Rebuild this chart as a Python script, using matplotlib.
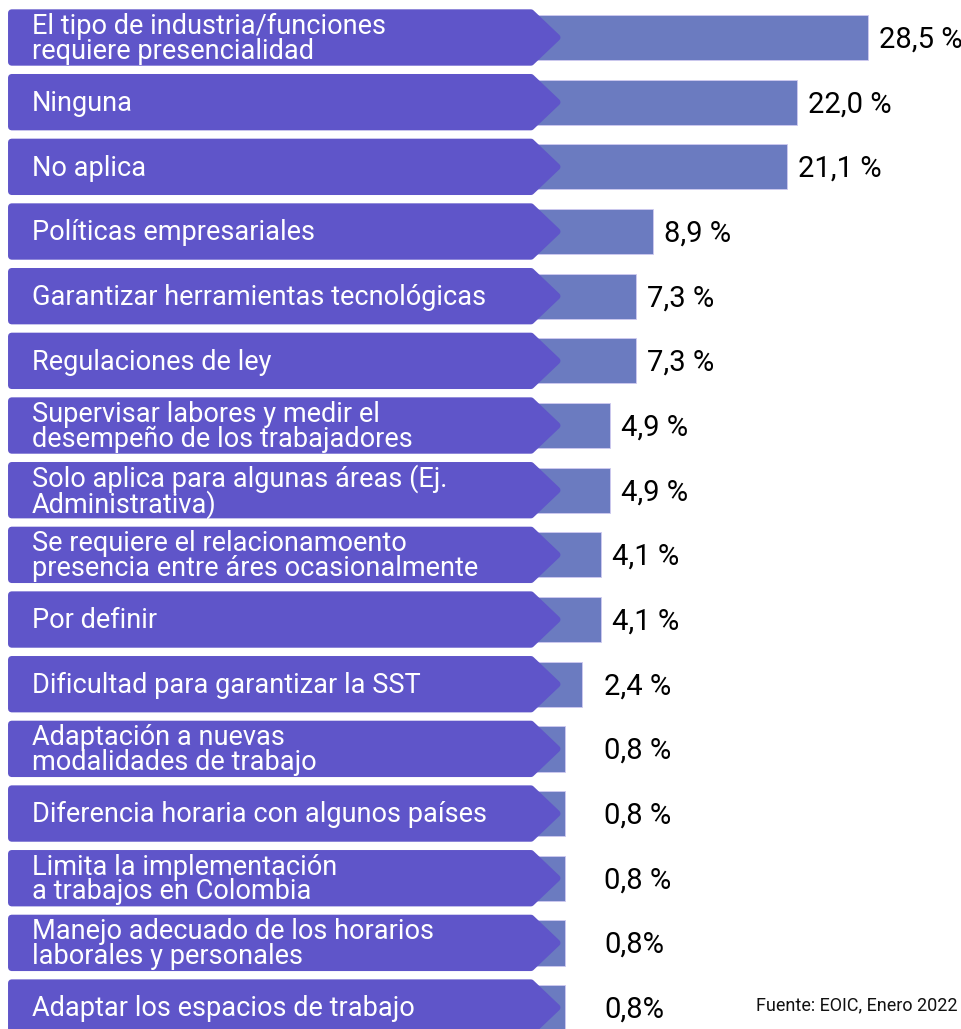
import numpy as np
import matplotlib
matplotlib.use("Agg")
import matplotlib.pyplot as plt
from matplotlib.patches import Polygon

# data
labels = [
    "El tipo de industria/funciones\nrequiere presencialidad",
    "Ninguna",
    "No aplica",
    "Políticas empresariales",
    "Garantizar herramientas tecnológicas",
    "Regulaciones de ley",
    "Supervisar labores y medir el\ndesempeño de los trabajadores",
    "Solo aplica para algunas áreas (Ej.\nAdministrativa)",
    "Se requiere el relacionamoento\npresencia entre áres ocasionalmente",
    "Por definir",
    "Dificultad para garantizar la SST",
    "Adaptación a nuevas\nmodalidades de trabajo",
    "Diferencia horaria con algunos países",
    "Limita la implementación\na trabajos en Colombia",
    "Manejo adecuado de los horarios\nlaborales y personales",
    "Adaptar los espacios de trabajo",
]
values = [28.5, 22.0, 21.1, 8.9, 7.3, 7.3, 4.9, 4.9, 4.1, 4.1, 2.4, 0.8, 0.8, 0.8, 0.8, 0.8]
value_text = ["28,5 %", "22,0 %", "21,1 %", "8,9 %", "7,3 %", "7,3 %", "4,9 %", "4,9 %",
              "4,1 %", "4,1 %", "2,4 %", "0,8 %", "0,8 %", "0,8 %", "0,8%", "0,8%"]
source = "Fuente: EOIC, Enero 2022"

arrow_col = "#5f55c9"
bar_col = "#6b7bc0"
edge_col = "#cfcaf0"

W, H = 962, 1029
fig = plt.figure(figsize=(W / 100, H / 100), dpi=100)
ax = fig.add_axes([0, 0, 1, 1])

px = 10.95          # pixels per percentage point
x0 = 556            # pixel position of 0 %
pitch = 64.67       # row pitch in pixels
yc0 = 37.5          # centre of first row in pixels

ax.set_xlim(-x0 / px, (W - x0) / px)
ax.set_ylim((H - yc0) / pitch, -yc0 / pitch)
ax.axis("off")

y = np.arange(len(values))
base = 5.0  # bars start hidden behind the arrow boxes
ax.barh(y, np.array(values) + base, left=-base, height=0.70, color=bar_col,
        edgecolor=edge_col, linewidth=0.6, zorder=1)

# arrow shaped label boxes (thick round-joined edge gives rounded corners)
xl = (11.5 - x0) / px
xf = (531 - x0) / px
xt = (557 - x0) / px
hh = 0.382
for i in y:
    pts = [(xl, i - hh), (xf, i - hh), (xt, i), (xf, i + hh), (xl, i + hh)]
    ax.add_patch(Polygon(pts, closed=True, facecolor=arrow_col, edgecolor=arrow_col,
                         linewidth=5, joinstyle="round", zorder=2))
    ax.text((32 - x0) / px, i + 0.02, labels[i], color="white", fontsize=19.5,
            family=["Roboto", "DejaVu Sans"],
            va="center", ha="left", linespacing=0.88, zorder=3)

for i, v in enumerate(values):
    tx = max(v + 1.0, 4.4)
    ax.text(tx, i + 0.03, value_text[i], fontsize=21, family=["Roboto", "DejaVu Sans"],
            va="center", ha="left", color="black")

ax.text((958 - x0) / px, (1005 - yc0) / pitch, source, fontsize=13,
        family=["Roboto", "DejaVu Sans"], ha="right", va="center", color="#111111")

fig.savefig("out.png", dpi=100)
